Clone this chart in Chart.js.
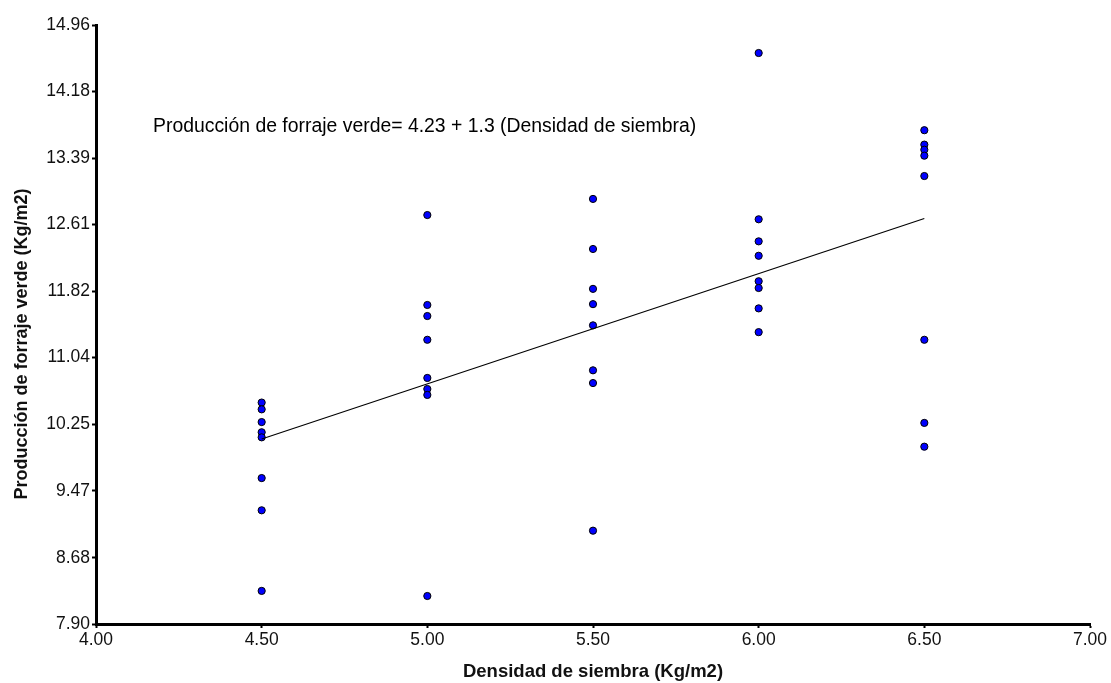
<!DOCTYPE html>
<html>
<head>
<meta charset="utf-8">
<script src="https://cdn.jsdelivr.net/npm/chart.js@4.4.1/dist/chart.umd.min.js"></script>
<style>
    html, body { margin: 0; padding: 0; background: #ffffff; }
    #wrap { width: 1111px; height: 683px; }
</style>
</head>
<body>
<div id="wrap"><canvas id="forrajeChart"></canvas></div>
<script>
// densidad de siembra (Kg/m2) for each group of observations
const densidad = [4.5, 5.0, 5.5, 6.0, 6.5];
// produccion de forraje verde (Kg/m2)
const prod45 = [10.51, 10.43, 10.28, 10.16, 10.10, 9.62, 9.24, 8.29];
const prod50 = [12.72, 11.66, 11.53, 11.25, 10.80, 10.67, 10.60, 8.23];
const prod55 = [12.91, 12.32, 11.85, 11.67, 11.42, 10.89, 10.74, 9.00];
const prod60 = [14.63, 12.67, 12.41, 12.24, 11.94, 11.86, 11.62, 11.34];
const prod65 = [13.72, 13.55, 13.49, 13.42, 13.18, 11.25, 10.27, 9.99];
// fitted line end points
const lineX = [4.5, 6.5];
const lineY = [10.08, 12.68];
// axis ticks
const xTicks = [4.0, 4.5, 5.0, 5.5, 6.0, 6.5, 7.0];
const yTickLabels = ['7.90', '8.68', '9.47', '10.25', '11.04', '11.82', '12.61', '13.39', '14.18', '14.96'];
const ecuacion = 'Producción de forraje verde= 4.23 + 1.3 (Densidad de siembra)';
const yTitulo = 'Producción de forraje verde (Kg/m2)';

const groups = [prod45, prod50, prod55, prod60, prod65];
const puntos = [];
groups.forEach((vals, i) => {
    vals.forEach(v => puntos.push({ x: densidad[i], y: v }));
});
const linea = lineX.map((x, i) => ({ x: x, y: lineY[i] }));

const textosPlugin = {
    id: 'textos',
    afterDatasetsDraw(chart) {
        const ctx = chart.ctx;
        const px = chart.scales.x.getPixelForValue(4.172);
        const py = chart.scales.y.getPixelForValue(13.76);
        ctx.save();
        ctx.font = '19.4px "Liberation Sans", Arial, sans-serif';
        ctx.fillStyle = '#000000';
        ctx.textAlign = 'left';
        ctx.textBaseline = 'middle';
        ctx.fillText(ecuacion, px, py);
        ctx.restore();

        // y axis title, sits a bit below the axis middle in the original
        ctx.save();
        ctx.translate(22, 344);
        ctx.rotate(-Math.PI / 2);
        ctx.font = 'bold 18px "Liberation Sans", Arial, sans-serif';
        ctx.fillStyle = '#111111';
        ctx.textAlign = 'center';
        ctx.textBaseline = 'middle';
        ctx.fillText(yTitulo, 0, 0);
        ctx.restore();
    }
};

const ctx = document.getElementById('forrajeChart').getContext('2d');
new Chart(ctx, {
    type: 'scatter',
    data: {
        datasets: [{
            type: 'line',
            data: linea,
            borderColor: '#000000',
            borderWidth: 1.2,
            pointRadius: 0,
            fill: false,
            tension: 0
        }, {
            data: puntos,
            backgroundColor: '#0000ff',
            borderColor: '#000000',
            borderWidth: 1,
            pointRadius: 3.6
        }]
    },
    options: {
        responsive: true,
        maintainAspectRatio: false,
        animation: false,
        layout: {
            padding: { top: 25, right: 21, left: 0, bottom: 0 }
        },
        plugins: {
            legend: { display: false },
            tooltip: { enabled: false }
        },
        scales: {
            x: {
                type: 'linear',
                min: 4,
                max: 7,
                afterBuildTicks(scale) {
                    scale.ticks = xTicks.map(v => ({ value: v }));
                },
                afterFit(scale) {
                    scale.height = 59;
                },
                ticks: {
                    color: '#111111',
                    padding: 2,
                    font: { family: '"Liberation Sans", Arial', size: 17.5 },
                    callback: v => v.toFixed(2)
                },
                grid: {
                    drawOnChartArea: false,
                    tickLength: 4,
                    tickColor: '#000000',
                    tickWidth: 2
                },
                border: { color: '#000000', width: 3 },
                title: {
                    display: true,
                    text: 'Densidad de siembra (Kg/m2)',
                    color: '#111111',
                    font: { family: '"Liberation Sans", Arial', size: 18.5, weight: 'bold' },
                    padding: { top: 4, bottom: 0 }
                }
            },
            y: {
                type: 'linear',
                min: 7.90,
                max: 14.96,
                afterBuildTicks(scale) {
                    scale.ticks = yTickLabels.map(t => ({ value: parseFloat(t) }));
                },
                afterFit(scale) {
                    scale.width = 96;
                },
                ticks: {
                    color: '#111111',
                    padding: 2,
                    font: { family: '"Liberation Sans", Arial', size: 17.5 },
                    callback: v => v.toFixed(2)
                },
                grid: {
                    drawOnChartArea: false,
                    tickLength: 4,
                    tickColor: '#000000',
                    tickWidth: 2
                },
                border: { color: '#000000', width: 3 },
                title: { display: false }
            }
        }
    },
    plugins: [textosPlugin]
});
</script>
</body>
</html>
